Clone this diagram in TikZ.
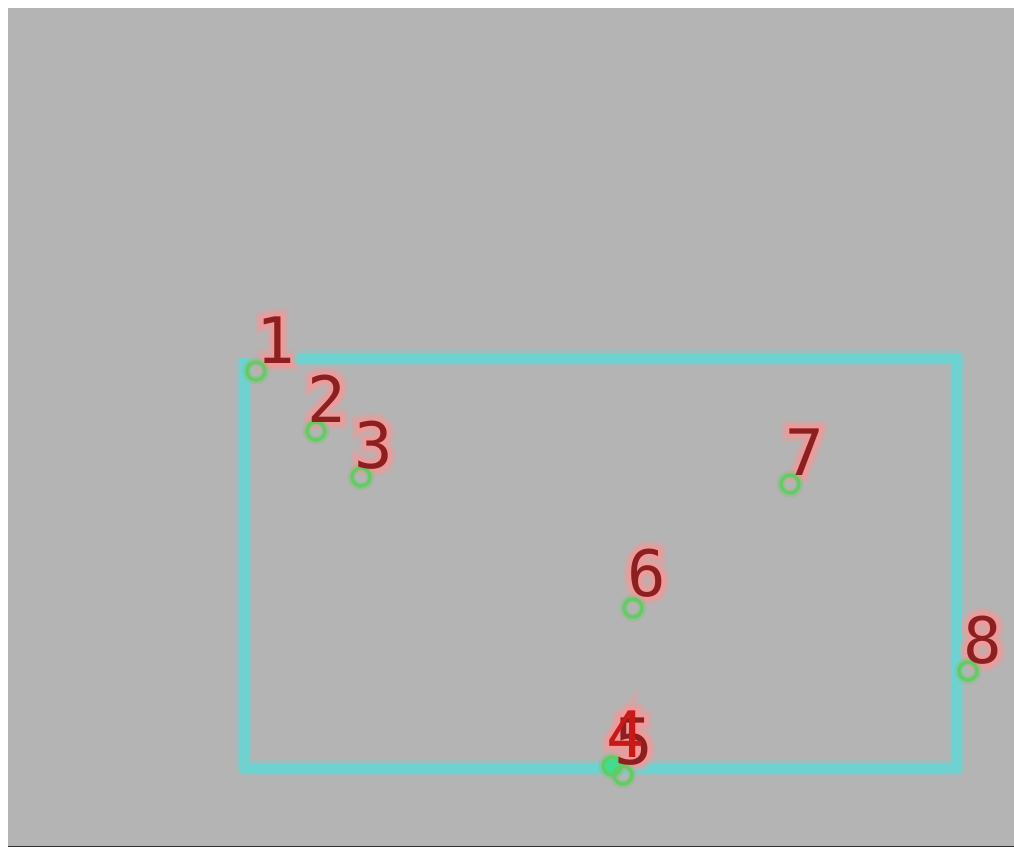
\documentclass[tikz,border=0pt]{standalone}
\usepackage{fontspec}
\newfontfamily\digfont{DejaVu Sans Mono}
\newfontfamily\halofont[FakeBold=12]{DejaVu Sans Mono}
\newfontfamily\haloouter[FakeBold=24]{DejaVu Sans Mono}
\definecolor{bggray}{RGB}{180,180,180}
\definecolor{cyanline}{RGB}{110,210,208}
\definecolor{ptgreen}{RGB}{95,205,95}
\definecolor{labred}{RGB}{140,32,32}
\definecolor{brightred}{RGB}{200,25,25}
\definecolor{halopink}{RGB}{250,150,150}
\tikzset{
  ptring/.style={draw=ptgreen,line width=3.5pt,opacity=0.9},
  ptglow/.style={draw=ptgreen!60!bggray,line width=8pt,opacity=0.45},
  labglow/.style={anchor=base west,inner sep=0pt,text=halopink,text opacity=0.35,font=\haloouter\fontsize{64}{64}\selectfont},
  labhalo/.style={anchor=base west,inner sep=0pt,text=halopink,text opacity=0.7,font=\halofont\fontsize{64}{64}\selectfont},
  labtext/.style={anchor=base west,inner sep=0pt,text=labred,font=\digfont\fontsize{64}{64}\selectfont},
}
\newcommand{\halolabel}[4]{% name, x, y, digit
  \node[labglow] (g#1) at (#2,#3) {#4};
  \node[labhalo] (h#1) at (#2,#3) {#4};
}
\begin{document}
\begin{tikzpicture}[x=1pt,y=-1pt]
\useasboundingbox (0,0) rectangle (1014,848);
\fill[white] (0,0) rectangle (1014,848);
\fill[bggray] (8,8) rectangle (1014,846);
\draw[black!80,line width=1.5pt] (8,846.5) -- (1014,846.5);

% frame corners
\coordinate (c0) at (290,358);
\coordinate (c1) at (957,358);
\coordinate (c2) at (957,768);
\coordinate (c3) at (244,768);
\coordinate (c4) at (244,358);
\draw[cyanline!50!bggray,line width=16pt,line join=round,opacity=0.6] (c0) -- (c1) -- (c2) -- (c3) -- (c4);
\draw[cyanline,line width=10pt,line join=round] (c0) -- (c1) -- (c2) -- (c3) -- (c4);

% label halos
\halolabel{1}{256}{363}{1}
\halolabel{2}{307}{422}{2}
\halolabel{3}{354}{468}{3}
\halolabel{7}{785}{475}{7}
\halolabel{6}{627}{596}{6}
\halolabel{8}{963}{663}{8}
\halolabel{4}{606}{757}{4}
\halolabel{5}{614}{764}{5}

% points
\coordinate (p1) at (256,371);
\coordinate (p2) at (316,431);
\coordinate (p3) at (361,477);
\coordinate (p4) at (612,766);
\coordinate (p5) at (623,775);
\coordinate (p6) at (633,608);
\coordinate (p7) at (790,484);
\coordinate (p8) at (968,671);
\foreach \p in {p1,p2,p3,p4,p5,p6,p7,p8} {
  \draw[ptglow] (\p) circle (9.5pt);
}
\fill[ptgreen!70!cyan] (p4) circle (8pt);
\foreach \p in {p1,p2,p3,p4,p5,p6,p7,p8} {
  \draw[ptring] (\p) circle (9pt);
}

% label texts
\node[labtext] (l1) at (256,363) {1};
\node[labtext] (l2) at (307,422) {2};
\node[labtext] (l3) at (354,468) {3};
\node[labtext] (l7) at (785,475) {7};
\node[labtext] (l6) at (627,596) {6};
\node[labtext] (l8) at (963,663) {8};
\node[labtext] (l5) at (614,764) {5};
\node[labtext,text=brightred] (l4) at (606,757) {4};
\end{tikzpicture}
\end{document}
